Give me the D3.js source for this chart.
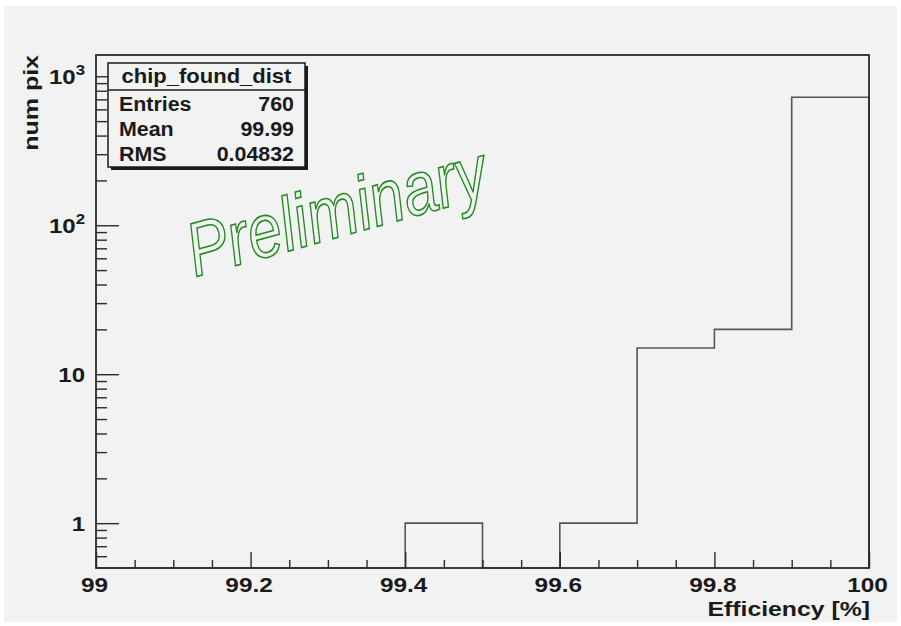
<!DOCTYPE html>
<html>
<head>
<meta charset="utf-8">
<script src="https://cdn.jsdelivr.net/npm/d3@7"></script>
<style>
  html, body { margin: 0; padding: 0; background: #ffffff; }
  svg { display: block; }
  text { font-family: "Liberation Sans", Arial, Helvetica, sans-serif; }
</style>
</head>
<body>
<svg id="chart" width="901" height="626"></svg>
<script>
// Histogram of per-chip pixel efficiency (10 bins, 99 .. 100 %)
const binEdges = [99.0, 99.1, 99.2, 99.3, 99.4, 99.5, 99.6, 99.7, 99.8, 99.9, 100.0];
const binCounts = [0, 0, 0, 0, 1, 0, 1, 15, 20, 723];

const xTickValues = [99, 99.2, 99.4, 99.6, 99.8, 100];
const xTickLabels = ["99", "99.2", "99.4", "99.6", "99.8", "100"];
const yTickValues = [1, 10, 100, 1000];
const yDomain = [0.5, 1390];

const statsTitle = "chip_found_dist";
const statsNames = ["Entries", "Mean", "RMS"];
const statsValues = ["760", "99.99", "0.04832"];

const xTitle = "Efficiency [%]";
const yTitle = "num pix";
const watermark = "Preliminary";

const svg = d3.select("#chart");
const frame = { left: 96, right: 869, top: 55, bottom: 568 };
const ink = "#2b2b2b";
const textInk = "#1a1a1a";
const histInk = "#555555";

// text drawn in a group so it can be widened along its baseline
function label(parent, tx, str, opts) {
  const g = parent.append("g")
    .attr("transform", `${tx} scale(${opts.sx || 1},1)`);
  const t = g.append("text").attr("x", 0).attr("y", 0)
    .attr("text-anchor", opts.anchor || "start")
    .attr("font-size", opts.size || 20)
    .attr("font-weight", opts.weight || "bold")
    .attr("fill", textInk);
  if (str !== null) t.text(str);
  return t;
}

// canvas pad
svg.append("rect").attr("x", 4).attr("y", 6).attr("width", 893).attr("height", 616)
  .attr("fill", "#f2f2f2");

const x = d3.scaleLinear().domain([99, 100]).range([frame.left, frame.right]);
const y = d3.scaleLog().domain(yDomain).range([frame.bottom, frame.top]);

// histogram outline; empty bins run along the frame bottom
const pts = [[binEdges[0], yDomain[0]]];
binCounts.forEach((c, i) => {
  const v = c > 0 ? c : yDomain[0];
  pts.push([binEdges[i], v]);
  pts.push([binEdges[i + 1], v]);
});
pts.push([binEdges[binEdges.length - 1], yDomain[0]]);
const line = d3.line().x(d => x(d[0])).y(d => y(d[1]));
svg.append("path").attr("d", line(pts))
  .attr("fill", "none").attr("stroke", histInk).attr("stroke-width", 1.6);

// x axis: major ticks every 0.2, minor every 0.05
const xMinor = d3.range(0, 21).map(i => 99 + i * 0.05)
  .filter(v => !xTickValues.some(t => Math.abs(t - v) < 1e-9));
const gx = svg.append("g").attr("transform", `translate(0,${frame.bottom})`)
  .call(d3.axisBottom(x).tickValues(xTickValues).tickSize(-16).tickFormat(""));
gx.select(".domain").remove();
gx.selectAll(".tick line").attr("stroke", ink).attr("stroke-width", 1.4);
const gxm = svg.append("g").attr("transform", `translate(0,${frame.bottom})`)
  .call(d3.axisBottom(x).tickValues(xMinor).tickSize(-8).tickFormat(""));
gxm.select(".domain").remove();
gxm.selectAll(".tick line").attr("stroke", ink).attr("stroke-width", 1.4);
xTickValues.forEach((v, i) => {
  label(svg, `translate(${x(v) - 1.5},592)`, xTickLabels[i], { anchor: "middle", sx: 1.22 });
});

// y axis: decade majors, 2..9 minors
const yMinor = [];
for (let e = -1; e <= 3; e++) {
  for (let m = 2; m <= 9; m++) {
    const v = m * Math.pow(10, e);
    if (v > yDomain[0] && v < yDomain[1]) yMinor.push(v);
  }
}
const gy = svg.append("g").attr("transform", `translate(${frame.left},0)`)
  .call(d3.axisLeft(y).tickValues(yTickValues).tickSize(-23).tickFormat(""));
gy.select(".domain").remove();
gy.selectAll(".tick line").attr("stroke", ink).attr("stroke-width", 1.4);
const gym = svg.append("g").attr("transform", `translate(${frame.left},0)`)
  .call(d3.axisLeft(y).tickValues(yMinor).tickSize(-11).tickFormat(""));
gym.select(".domain").remove();
gym.selectAll(".tick line").attr("stroke", ink).attr("stroke-width", 1.4);

// y tick labels with superscript exponents
yTickValues.forEach(v => {
  const exp = Math.round(Math.log10(v));
  const t = label(svg, `translate(${frame.left - 11},${y(v) + 8})`, null, { anchor: "end", sx: 1.2 });
  if (exp >= 2) {
    t.append("tspan").text("10");
    t.append("tspan").attr("dy", -9).attr("font-size", 14).text(String(exp));
  } else {
    t.text(String(v));
  }
});

// frame
svg.append("rect").attr("x", frame.left).attr("y", frame.top)
  .attr("width", frame.right - frame.left).attr("height", frame.bottom - frame.top)
  .attr("fill", "none").attr("stroke", ink).attr("stroke-width", 1.8);

// axis titles
label(svg, `translate(${frame.right + 1},616)`, xTitle, { anchor: "end", sx: 1.24 });
label(svg, `translate(38,${frame.top}) rotate(-90)`, yTitle, { anchor: "end", sx: 1.25 });

// stats box
const box = { x: 108, y: 63, w: 197, h: 104, row: 25 };
svg.append("rect").attr("x", box.x + 3).attr("y", box.y + 3).attr("width", box.w).attr("height", box.h)
  .attr("fill", textInk);
svg.append("rect").attr("x", box.x).attr("y", box.y).attr("width", box.w).attr("height", box.h)
  .attr("fill", "#f2f2f2").attr("stroke", textInk).attr("stroke-width", 1.5);
svg.append("line").attr("x1", box.x).attr("x2", box.x + box.w).attr("y1", box.y + 27).attr("y2", box.y + 27)
  .attr("stroke", textInk).attr("stroke-width", 1.3);
label(svg, `translate(${box.x + box.w / 2},${box.y + 20})`, statsTitle, { anchor: "middle", sx: 1.1 });
statsNames.forEach((n, i) => {
  const by = box.y + 48 + i * box.row;
  label(svg, `translate(${box.x + 11},${by})`, n, { sx: 1.07 });
  label(svg, `translate(${box.x + box.w - 11},${by})`, statsValues[i], { anchor: "end", sx: 1.07 });
});

// outlined watermark
svg.append("text").attr("transform", "translate(195,277) rotate(-15.5)")
  .attr("font-size", 76).attr("font-style", "italic")
  .attr("textLength", 308).attr("lengthAdjust", "spacingAndGlyphs")
  .attr("fill", "none").attr("stroke", "#218a21").attr("stroke-width", 1.6)
  .text(watermark);
</script>
</body>
</html>
